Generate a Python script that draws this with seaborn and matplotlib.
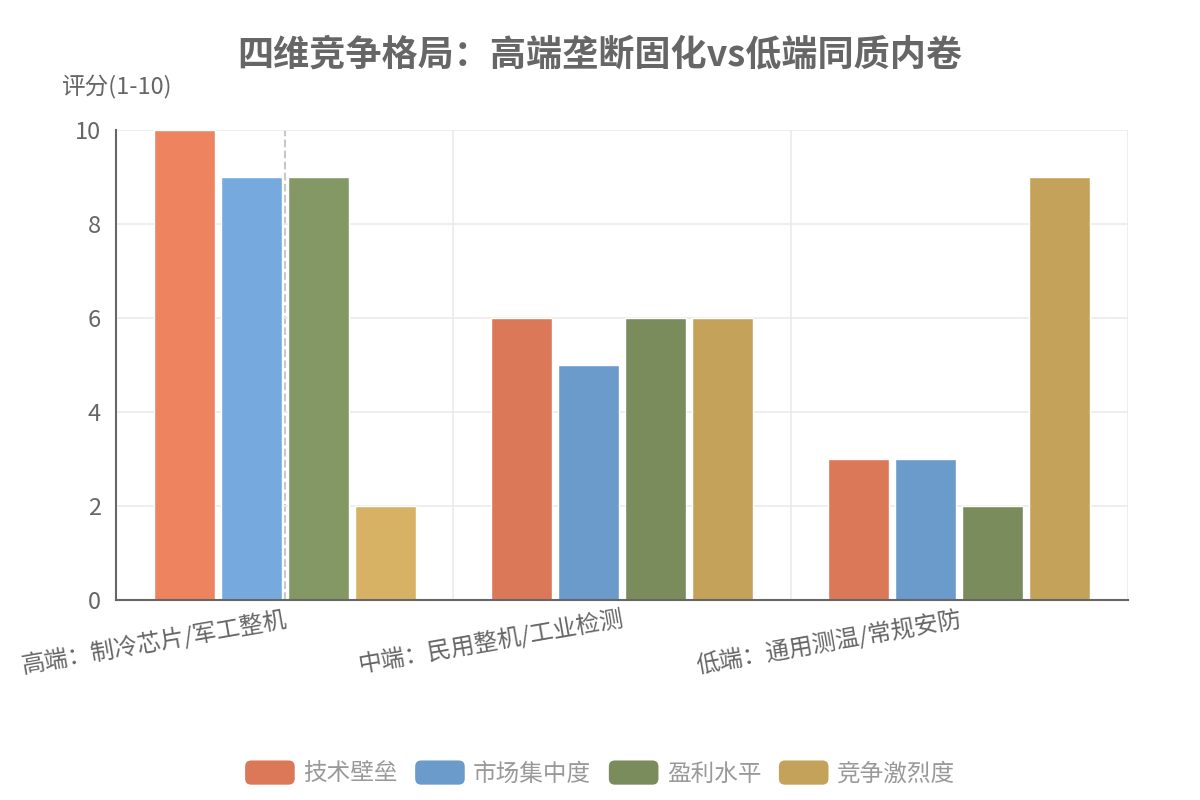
import pandas as pd
import matplotlib.pyplot as plt
import seaborn as sns
from matplotlib.patches import Patch, FancyBboxPatch
from matplotlib.legend_handler import HandlerPatch

# 数据
categories = ['高端：制冷芯片/军工整机', '中端：民用整机/工业检测', '低端：通用测温/常规安防']
series = ['技术壁垒', '市场集中度', '盈利水平', '竞争激烈度']
tech_barrier = [10, 6, 3]
concentration = [9, 5, 3]
profit = [9, 6, 2]
competition = [2, 6, 9]

colors = ['#db7858', '#6a9bcb', '#7a8c5c', '#c5a25a']
highlight_colors = ['#ee8360', '#76aadf', '#849866', '#d8b264']
highlight_idx = 0

rows = []
for name, vals in zip(series, [tech_barrier, concentration, profit, competition]):
    for c, v in zip(categories, vals):
        rows.append({'category': c, 'series': name, 'score': v})
df = pd.DataFrame(rows)

sns.set_style('white')
plt.rcParams['font.family'] = ['Noto Sans CJK SC', 'DejaVu Sans']

fig, ax = plt.subplots(figsize=(12, 8), dpi=100)
fig.subplots_adjust(left=116/1200, right=1128/1200, bottom=0.25, top=1-130/800)

sns.barplot(data=df, x='category', y='score', hue='series', hue_order=series,
            palette=dict(zip(series, colors)), width=0.794, gap=0.09,
            legend=False, ax=ax, saturation=1)

# 第一组高亮
for cont, hc in zip(ax.containers, highlight_colors):
    cont[highlight_idx].set_facecolor(hc)

ax.axvline(highlight_idx, color='#c8c8c8', linestyle='--', linewidth=1.5, zorder=0.5)

ax.set_xlim(-0.5, len(categories) - 0.5)
ax.set_ylim(0, 10)
ax.set_yticks(range(0, 11, 2))
ax.set_xticks([i + 0.5 for i in range(len(categories))], minor=True)
ax.set_axisbelow(True)
ax.yaxis.grid(True, color='#ebebeb', linewidth=1.2)
ax.xaxis.grid(True, which='minor', color='#ebebeb', linewidth=1.2)
ax.xaxis.grid(False, which='major')

for s in ['top', 'right']:
    ax.spines[s].set_visible(False)
for s in ['left', 'bottom']:
    ax.spines[s].set_color('#666666')
    ax.spines[s].set_linewidth(1.5)

ax.set_xlabel('')
ax.set_ylabel('')
ax.tick_params(axis='both', which='both', length=0, labelsize=17, labelcolor='#666666')
ax.tick_params(axis='y', pad=11)
ax.tick_params(axis='x', pad=5)
for lab in ax.get_xticklabels():
    lab.set_rotation(10)
    lab.set_ha('right')
    lab.set_va('top')
    lab.set_rotation_mode('anchor')

fig.text(0.5, 1 - 55/800, '四维竞争格局：高端垄断固化vs低端同质内卷', ha='center', va='center',
         fontsize=26, fontweight='bold', color='#666666')
fig.text(116/1200, 1 - 87/800, '评分(1-10)', ha='center', va='center', fontsize=17, color='#666666')


class RoundBox(HandlerPatch):
    def create_artists(self, legend, orig_handle, xdescent, ydescent, width, height, fontsize, trans):
        p = FancyBboxPatch((-xdescent, -ydescent), width, height,
                           boxstyle='round,pad=0,rounding_size=%f' % (height * 0.25),
                           facecolor=orig_handle.get_facecolor(), edgecolor='none', transform=trans)
        return [p]


handles = [Patch(facecolor=c, label=s) for c, s in zip(colors, series)]
leg = fig.legend(handles=handles, loc='center', bbox_to_anchor=(0.5, 1 - 773/800), ncol=4,
                 frameon=False, fontsize=17, handlelength=2.1, handleheight=1.2,
                 handletextpad=0.35, columnspacing=0.75,
                 handler_map={Patch: RoundBox()})
for t in leg.get_texts():
    t.set_color('#999999')

fig.savefig('out.png', dpi=100)
